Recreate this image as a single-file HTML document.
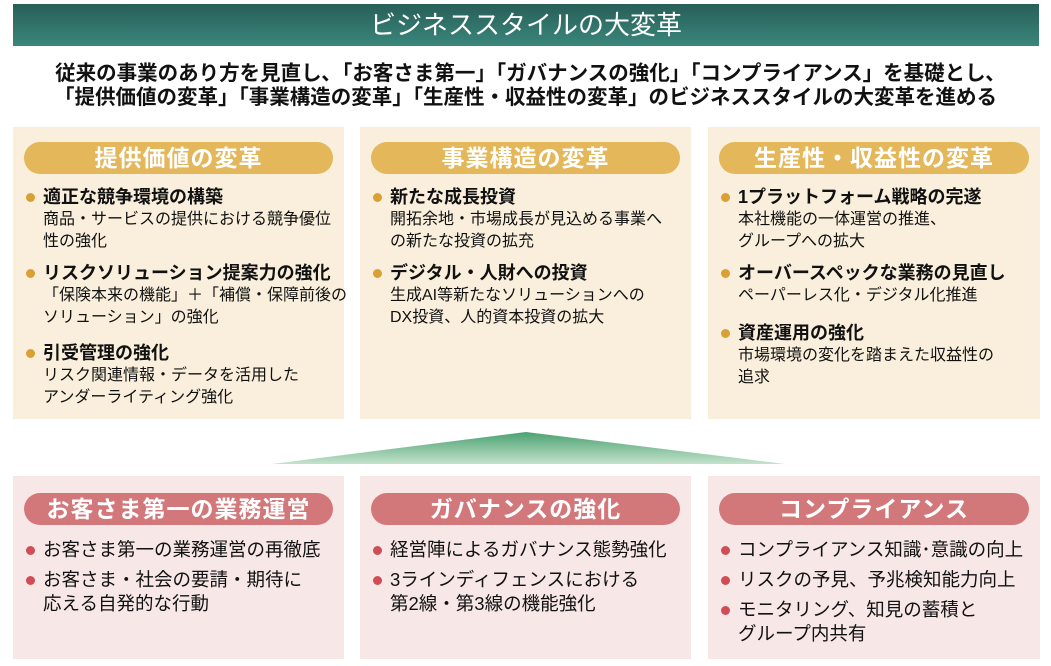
<!DOCTYPE html>
<html><head><meta charset="utf-8"><style>
*{margin:0;padding:0;box-sizing:border-box}
body{width:1051px;height:666px;background:#fff;font-family:"Liberation Sans","Noto Sans CJK JP",sans-serif;position:relative;overflow:hidden;color:#111}
.a{position:absolute}
.hdr{left:13px;top:4px;width:1026px;height:42px;background:linear-gradient(#285f58,#3a867b);color:#fff;font-size:26px;text-align:center;line-height:42px}
.sub{left:0;width:1051px;text-align:center;font-size:20.5px;font-weight:bold;line-height:24px;white-space:nowrap}
.tb{top:127px;height:292px;background:#f9efdc}
.bb{top:476px;height:183px;background:#f8e7e7}
.pill{left:11px;right:11px;height:32px;border-radius:16px;color:#fff;font-size:23px;font-weight:bold;text-align:center;line-height:32px;letter-spacing:1px}
.tb .pill{top:15px;background:#e3b75a}
.bb .pill{top:17px;background:#d3787a}
.it{left:12px;right:0;font-size:16px;line-height:22px;white-space:nowrap}
.it b{display:block;font-size:18px;position:relative;padding-left:18px;line-height:24px}
.it b:before,.bi:before{content:"";position:absolute;left:1px;top:8px;width:9px;height:9px;border-radius:50%;background:#d9a133}
.it span{display:block;padding-left:18px}
.bi{left:12px;right:0;font-size:18.5px;line-height:24px;padding-left:18px;white-space:nowrap}
.bi:before{background:#cf4d55;top:8px}
</style></head><body>
<div class="a hdr">ビジネススタイルの大変革</div>
<div class="a sub" style="top:62px">従来の事業のあり方を見直し､「お客さま第一」「ガバナンスの強化」「コンプライアンス」を基礎とし､</div>
<div class="a sub" style="top:86px">「提供価値の変革」「事業構造の変革」「生産性・収益性の変革」のビジネススタイルの大変革を進める</div>

<div class="a tb" style="left:13px;width:331px">
<div class="a pill">提供価値の変革</div>
<div class="a it" style="top:58px"><b>適正な競争環境の構築</b><span>商品・サービスの提供における競争優位<br>性の強化</span></div>
<div class="a it" style="top:134px"><b>リスクソリューション提案力の強化</b><span>「保険本来の機能」＋「補償・保障前後の<br>ソリューション」の強化</span></div>
<div class="a it" style="top:214px"><b>引受管理の強化</b><span>リスク関連情報・データを活用した<br>アンダーライティング強化</span></div>
</div>
<div class="a tb" style="left:360px;width:331px">
<div class="a pill">事業構造の変革</div>
<div class="a it" style="top:58px"><b>新たな成長投資</b><span>開拓余地・市場成長が見込める事業へ<br>の新たな投資の拡充</span></div>
<div class="a it" style="top:134px"><b>デジタル・人財への投資</b><span>生成AI等新たなソリューションへの<br>DX投資、人的資本投資の拡大</span></div>
</div>
<div class="a tb" style="left:708px;width:332px">
<div class="a pill">生産性・収益性の変革</div>
<div class="a it" style="top:58px"><b>1プラットフォーム戦略の完遂</b><span>本社機能の一体運営の推進、<br>グループへの拡大</span></div>
<div class="a it" style="top:134px"><b>オーバースペックな業務の見直し</b><span>ペーパーレス化・デジタル化推進</span></div>
<div class="a it" style="top:194px"><b>資産運用の強化</b><span>市場環境の変化を踏まえた収益性の<br>追求</span></div>
</div>

<svg class="a" style="left:0;top:0" width="1051" height="666"><defs><linearGradient id="g" x1="0" y1="0" x2="0" y2="1"><stop offset="0" stop-color="#4aa272"/><stop offset="1" stop-color="#c4e2cc"/></linearGradient></defs><polygon points="526,432 785,464 272,464" fill="url(#g)"/></svg>

<div class="a bb" style="left:13px;width:331px">
<div class="a pill">お客さま第一の業務運営</div>
<div class="a bi" style="top:62px">お客さま第一の業務運営の再徹底</div>
<div class="a bi" style="top:92px">お客さま・社会の要請・期待に<br>応える自発的な行動</div>
</div>
<div class="a bb" style="left:360px;width:331px">
<div class="a pill">ガバナンスの強化</div>
<div class="a bi" style="top:62px">経営陣によるガバナンス態勢強化</div>
<div class="a bi" style="top:92px">3ラインディフェンスにおける<br>第2線・第3線の機能強化</div>
</div>
<div class="a bb" style="left:708px;width:332px">
<div class="a pill">コンプライアンス</div>
<div class="a bi" style="top:62px">コンプライアンス知識･意識の向上</div>
<div class="a bi" style="top:92px">リスクの予見、予兆検知能力向上</div>
<div class="a bi" style="top:122px">モニタリング、知見の蓄積と<br>グループ内共有</div>
</div>
</body></html>
